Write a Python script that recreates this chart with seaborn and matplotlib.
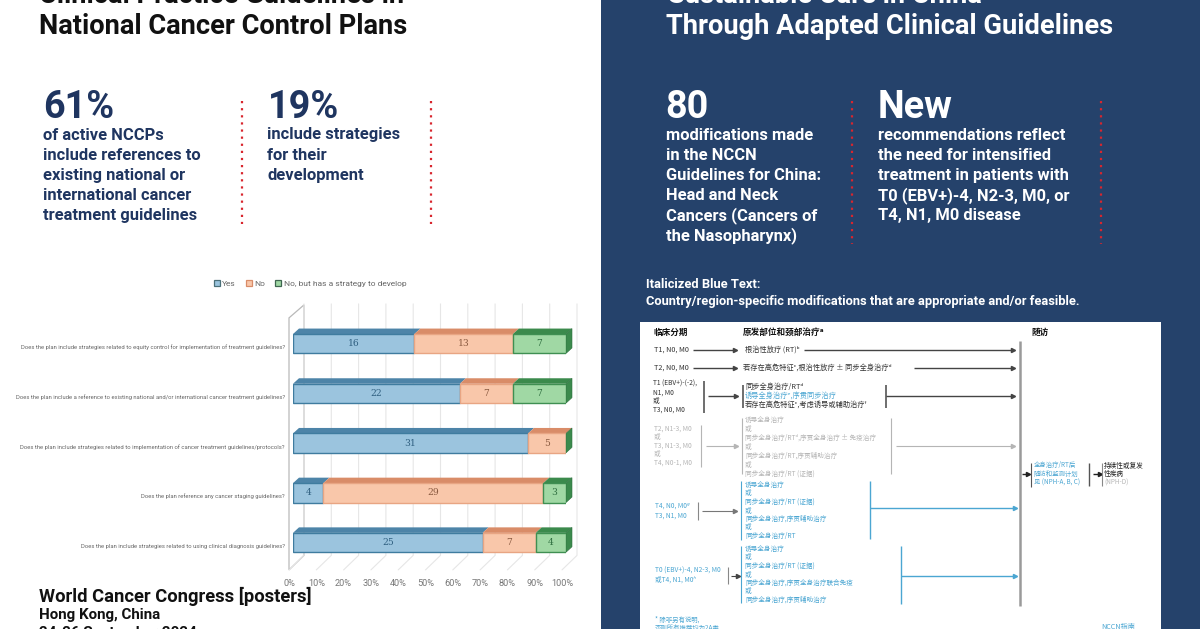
import pandas as pd
from matplotlib import pyplot as plt
from matplotlib.patches import Polygon, Rectangle, Patch
from matplotlib.transforms import ScaledTranslation
import seaborn as sns

# stacked bar values, read from the poster
questions = [
    "Does the plan include strategies related to equity control for implementation of treatment guidelines?",
    "Does the plan include a reference to existing national and/or international cancer treatment guidelines?",
    "Does the plan include strategies related to implementation of cancer treatment guidelines/protocols?",
    "Does the plan reference any cancer staging guidelines?",
    "Does the plan include strategies related to using clinical diagnosis guidelines?",
]
yes_counts = [16, 22, 31, 4, 25]
no_counts = [13, 7, 5, 29, 7]
strategy_counts = [7, 7, 0, 3, 4]
series_names = ["Yes", "No", "No, but has a strategy to develop"]
tick_values = [0, 10, 20, 30, 40, 50, 60, 70, 80, 90, 100]

left_items = ["of active NCCPs", "include references to", "existing national or",
              "international cancer", "treatment guidelines"]
left_items2 = ["include strategies", "for their", "development"]
right_items = ["modifications made", "in the NCCN", "Guidelines for China:", "Head and Neck",
               "Cancers (Cancers of", "the Nasopharynx)"]
right_items2 = ["recommendations reflect", "the need for intensified", "treatment in patients with",
                "T0 (EBV+)-4, N2-3, M0, or", "T4, N1, M0 disease"]

front_colors = ["#9bc4de", "#f9c7aa", "#a0d8a4"]
edge_colors = ["#3f7c9f", "#e8a583", "#3f8f52"]
top_colors = ["#4d84a8", "#d98c68", "#3b8a4c"]
legend_edges = ["#4a6f78", "#d98c68", "#3f6650"]
text_colors = ["#2f5f80", "#8a5a40", "#2f6f40"]
NAVY = "#1f3560"
PANEL = "#25426b"
RED = "#d8262e"
CYAN = "#4ba6d2"
CJK = ["Noto Sans CJK SC", "DejaVu Sans"]

sns.set_theme(style="white")
plt.rcParams["font.family"] = ["Roboto", "DejaVu Sans"]

fig = plt.figure(figsize=(12, 6.29), dpi=100)

# whole-figure layer in pixels for the poster text and flow chart
bg = fig.add_axes([0, 0, 1, 1])
bg.set_xlim(0, 1200)
bg.set_ylim(629, 0)
bg.axis("off")


def put(x, y, s, size=11.9, color=NAVY, weight="bold", **kw):
    return bg.text(x, y, s, fontsize=size, color=color, fontweight=weight, va="center", **kw)


def dotted(x, y0, y1):
    bg.plot([x, x], [y0, y1], color=RED, lw=1.6, ls=(0, (1, 2.2)))


def vline(x, y0, y1, color="#555555", lw=1.2):
    bg.plot([x, x], [y0, y1], color=color, lw=lw, solid_capstyle="butt")


def arrow(x0, x1, y, color="#444444", lw=1.0):
    bg.plot([x0, x1], [y, y], color=color, lw=lw, solid_capstyle="butt")
    bg.plot([x1], [y], marker=">", ms=3, color=color, mec=color)


bg.add_patch(Rectangle((601, 0), 599, 629, color=PANEL, lw=0))

# left column
put(39, 26, "National Cancer Control Plans", size=19.6, color="#111111")
bg.text(39, 3, "Clinical Practice Guidelines in", fontsize=19.6, color="#111111", fontweight="bold", va="baseline")
put(43, 108, "61%", size=27.2)
for i, line in enumerate(left_items):
    put(43, 135 + i * 20.1, line)
dotted(242, 101, 224)
put(268, 108, "19%", size=27.2)
for i, line in enumerate(left_items2):
    put(267, 135 + i * 20.1, line)
dotted(431, 101, 224)
put(39, 596, "World Cancer Congress [posters]", size=13.2, color="#111111")
put(39, 615, "Hong Kong, China", size=10.9, color="#111111")
put(39, 633, "24-26 September 2024", size=10.9, color="#111111")

# right column
put(666, 26, "Through Adapted Clinical Guidelines", size=19.6, color="white")
bg.text(668, 3, "Sustainable Care in China", fontsize=19.6, color="white", fontweight="bold", va="baseline")
put(665, 108, "80", size=27.2, color="white")
for i, line in enumerate(right_items):
    put(666, 135 + i * 20.1, line, color="white")
dotted(852, 101, 244)
put(878, 108, "New", size=27.2, color="white")
for i, line in enumerate(right_items2):
    put(878, 135 + i * 20.1, line, color="white")
dotted(1101, 101, 244)
put(646, 285, "Italicized Blue Text:", size=9.3, color="white")
put(646, 301, "Country/region-specific modifications that are appropriate and/or feasible.", size=9.3, color="white")

# flow chart panel
bg.add_patch(Rectangle((640, 322), 521, 307, color="white", lw=0))


def cn(x, y, s, size=5.2, color="#333333", weight="normal", style="normal"):
    bg.text(x, y, s, fontsize=size, color=color, fontweight=weight, family=CJK, style=style, va="center")


cn(653, 332, "临床分期", size=6.2, color="#111111", weight="bold")
cn(743, 332, "原发部位和颈部治疗ᵃ", size=6.2, color="#111111", weight="bold")
cn(1031, 332, "随访", size=6.2, color="#111111", weight="bold")
vline(1020, 341, 606, color="#9a9a9a", lw=1.8)

cn(654, 350, "T1, N0, M0")
arrow(693, 735, 350)
cn(745, 350, "根治性放疗 (RT)ᵇ")
arrow(804, 1013, 350)

cn(654, 368, "T2, N0, M0")
arrow(693, 735, 368)
cn(743, 368, "若存在高危特征ᶜ,根治性放疗 ± 同步全身治疗ᵈ")
arrow(914, 1013, 368)

for y, s in zip([384, 393, 401, 410], ["T1 (EBV+)-(-2),", "N1, M0", "或", "T3, N0, M0"]):
    cn(653, y, s, size=4.8)
vline(704, 381, 413)
arrow(708, 736, 396)
vline(743, 385, 408)
cn(745, 387, "同步全身治疗/RTᵈ")
cn(745, 396, "诱导全身治疗ᵉ,序贯同步治疗", color=CYAN, style="italic")
cn(745, 405, "若存在高危特征ᶜ,考虑诱导或辅助治疗ᶠ")
vline(886, 385, 408)
arrow(886, 1013, 396)

GRAY = "#b5b5b5"
for y, s in zip([429, 437, 446, 454, 463], ["T2, N1-3, M0", "或", "T3, N1-3, M0", "或", "T4, N0-1, M0"]):
    cn(654, y, s, size=4.8, color=GRAY)
vline(701, 425, 467, color=GRAY, lw=0.8)
arrow(706, 736, 446, color=GRAY, lw=0.8)
vline(742, 418, 474, color=GRAY, lw=0.8)
gray_lines = ["诱导全身治疗", "或", "同步全身治疗/RTᵈ,序贯全身治疗 ± 免疫治疗", "或", "同步全身治疗/RT,序贯辅助治疗", "或",
              "同步全身治疗/RT (证据)"]
for i, s in enumerate(gray_lines):
    cn(745, 420 + i * 8.9, s, size=4.8, color=GRAY)
vline(891, 418, 474, color=GRAY, lw=0.8)
arrow(896, 1013, 446, color=GRAY, lw=0.8)

cn(655, 506, "T4, N0, M0ᵍ", size=4.8, color=CYAN, style="italic")
cn(655, 516, "T3, N1, M0", size=4.8, color=CYAN, style="italic")
vline(698, 502, 520, color="#888888", lw=0.8)
arrow(702, 735, 511, color="#777777", lw=0.8)
vline(741, 481, 540, color=CYAN, lw=0.8)
blue_a = ["诱导全身治疗", "或", "同步全身治疗/RT (证据)", "或", "同步全身治疗,序贯辅助治疗", "或", "同步全身治疗/RT"]
for i, s in enumerate(blue_a):
    cn(745, 485 + i * 8.5, s, size=4.8, color=CYAN, style="italic")
vline(870, 481, 539, color=CYAN, lw=1.0)
arrow(870, 1015, 508, color=CYAN, lw=1.0)

cn(655, 571, "T0 (EBV+)-4, N2-3, M0", size=4.8, color=CYAN, style="italic")
cn(655, 580, "或T4, N1, M0ʰ", size=4.8, color=CYAN, style="italic")
vline(728, 567, 584, color="#888888", lw=0.8)
arrow(731, 738, 576, color="#444444", lw=0.8)
vline(741, 546, 603, color=CYAN, lw=0.8)
blue_b = ["诱导全身治疗", "或", "同步全身治疗/RT (证据)", "或", "同步全身治疗,序贯全身治疗联合免疫", "或", "同步全身治疗,序贯辅助治疗"]
for i, s in enumerate(blue_b):
    cn(745, 549 + i * 8.5, s, size=4.8, color=CYAN, style="italic")
vline(901, 546, 604, color=CYAN, lw=1.0)
arrow(901, 1015, 576, color=CYAN, lw=1.0)

arrow(1022, 1028, 474, color="#222222")
vline(1031, 463, 487, color="#555555", lw=0.8)
for y, s in zip([465, 474, 483], ["全身治疗/RT后", "随访和监测计划", "见 (NPH-A, B, C)"]):
    cn(1034, y, s, size=4.6, color=CYAN)
vline(1089, 463, 486, color="#555555", lw=1.0)
arrow(1093, 1100, 474, color="#222222")
vline(1102, 463, 486, color="#888888", lw=0.8)
cn(1104, 466, "持续性或复发", size=4.8, color="#222222")
cn(1104, 474, "性疾病", size=4.8, color="#222222")
cn(1104, 483, "(NPH-D)", size=4.6, color=GRAY)
cn(655, 620, "* 除非另有说明,", size=4.6, color=CYAN, style="italic")
cn(655, 628, "否则所有推荐均为2A类", size=4.6, color=CYAN, style="italic")
cn(1101, 627, "NCCN指南", size=5.2, color=CYAN)

# stacked bar chart, front plane of the 3D look
df = pd.DataFrame({"question": questions, "yes": yes_counts, "no": no_counts, "strategy": strategy_counts})
totals = df[["yes", "no", "strategy"]].sum(axis=1)
ax = fig.add_axes([293 / 1200, 1 - 567.4 / 629, 273 / 1200, 248.5 / 629])
ax.patch.set_alpha(0)

to_px = lambda x, y: bg.transData.inverted().transform(ax.transData.transform((x, y)))

ax.set_xlim(0, 100)
starts = pd.Series(0.0, index=df.index)
depth_x, depth_y = 6, 5.5
for k, col in enumerate(["yes", "no", "strategy"]):
    pct = df[col] / totals * 100
    sns.barplot(data=df.assign(pct=pct), x="pct", y="question", orient="y", left=starts.values, width=0.39,
                color=front_colors[k], saturation=1, edgecolor=edge_colors[k], linewidth=1.0, ax=ax, zorder=3)
    starts = starts + pct
ax.set_xlim(0, 100)
ax.set_ylim(4.5, -0.5)

# walls and gridlines behind the bars
for t in tick_values:
    x, y_bot = to_px(t, 4.5)
    _, y_top = to_px(t, -0.5)
    bg.plot([x - 4, x + 11, x + 11], [y_bot + 2.5, y_bot - 12, y_top - 15], color="#e6e6e6", lw=0.8)
x0, y_bot = to_px(0, 4.5)
_, y_top = to_px(0, -0.5)
bg.add_patch(Polygon([(x0 - 4, y_bot + 2.5), (x0 - 4, y_top - 1), (x0 + 11, y_top - 14), (x0 + 11, y_bot - 12)],
                     fill=False, ec="#b9b9b9", lw=0.9))

# depth faces built from the drawn bars
for k, container in enumerate(ax.containers):
    counts = df[["yes", "no", "strategy"][k]]
    for bar, n in zip(container, counts):
        (xa, ya) = to_px(bar.get_x(), bar.get_y())
        (xb, yb) = to_px(bar.get_x() + bar.get_width(), bar.get_y() + bar.get_height())
        if n > 0:
            ax.add_patch(Polygon([(xa, ya), (xa + depth_x, ya - depth_y), (xb + depth_x, ya - depth_y), (xb, ya)],
                                 transform=bg.transData, color=top_colors[k], lw=0, clip_on=False, zorder=2))
        if k == 2:
            ax.add_patch(Polygon([(xb, ya), (xb + depth_x, ya - depth_y), (xb + depth_x, yb - depth_y), (xb, yb)],
                                 transform=bg.transData, color=top_colors[k], ec="#2f7040", lw=0.4, clip_on=False,
                                 zorder=2))
    ax.bar_label(container, labels=[str(n) if n > 0 else "" for n in counts], label_type="center",
                 fontsize=6.6, color=text_colors[k], family="DejaVu Serif", zorder=5)

ax.set_xlabel("")
ax.set_ylabel("")
ax.set_xticks(tick_values)
ax.set_xticklabels([f"{t}%" for t in tick_values], fontsize=6.6, color="#777777")
ax.tick_params(axis="x", length=0, pad=8)
ax.tick_params(axis="y", length=0, pad=6, labelsize=4.2, labelcolor="#666666")
sns.despine(ax=ax, left=True, bottom=True)
shift_x = ScaledTranslation(-4 / 100, 0, fig.dpi_scale_trans)
for lab in ax.get_xticklabels():
    lab.set_transform(lab.get_transform() + shift_x)
shift_y = ScaledTranslation(0, -3 / 100, fig.dpi_scale_trans)
for lab in ax.get_yticklabels():
    lab.set_transform(lab.get_transform() + shift_y)

handles = [Patch(facecolor=front_colors[k], edgecolor=legend_edges[k], lw=0.9) for k in range(3)]
ax.legend(handles, series_names, ncol=3, loc="lower left", bbox_to_anchor=(-0.29, 1.13), frameon=False,
          fontsize=6.05, labelcolor="#666666", handlelength=0.7, handleheight=0.7, handletextpad=0.3,
          columnspacing=1.2, borderpad=0, borderaxespad=0)

fig.savefig("out.png", dpi=100)
